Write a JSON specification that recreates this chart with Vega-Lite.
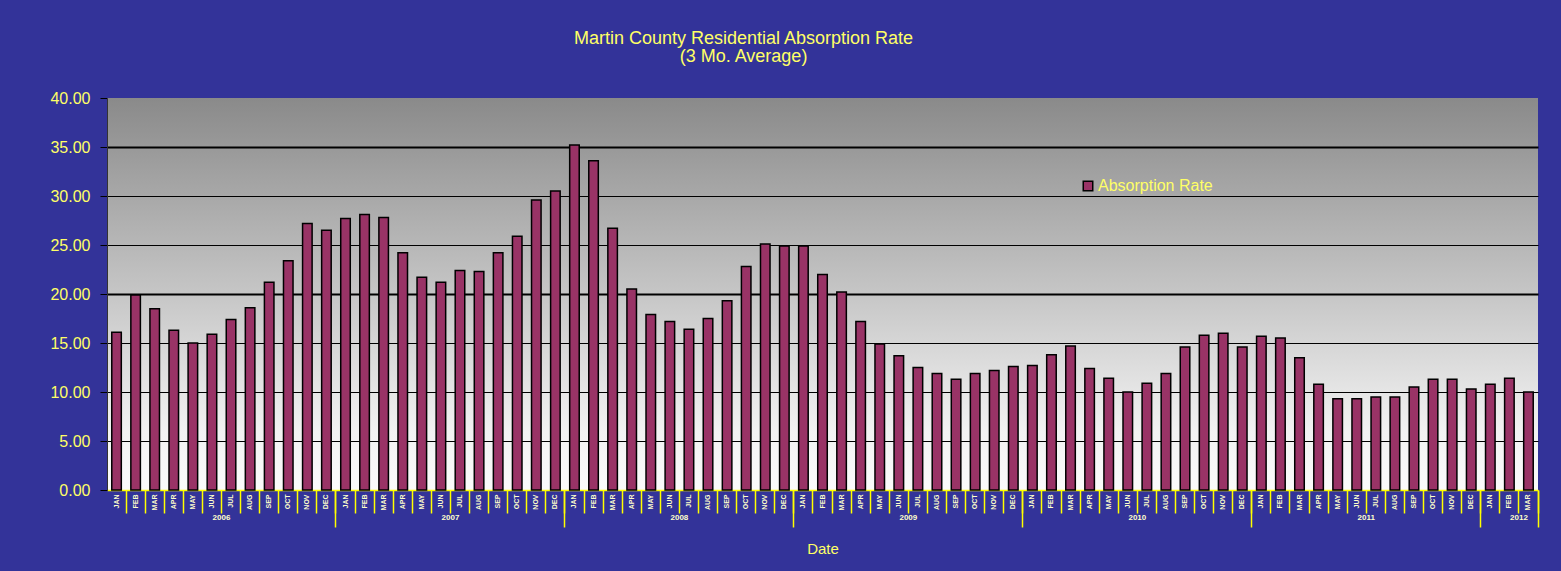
{
  "$schema": "https://vega.github.io/schema/vega-lite/v6.json",
  "width": 1431,
  "height": 392,
  "autosize": {"type": "none"},
  "padding": {"left": 107, "top": 98, "right": 23, "bottom": 81},
  "background": "#333399",
  "view": {
    "stroke": null,
    "fill": {
      "gradient": "linear",
      "x1": 0, "y1": 0, "x2": 0, "y2": 1,
      "stops": [
        {"offset": 0, "color": "#8a8a8a"},
        {"offset": 0.5, "color": "#c6c6c6"},
        {"offset": 0.85, "color": "#f2f2f2"},
        {"offset": 1, "color": "#fbfbfb"}
      ]
    }
  },
  "title": {
    "text": ["Martin County Residential Absorption Rate", "(3 Mo. Average)"],
    "color": "#ffff66",
    "font": "Liberation Sans",
    "fontSize": 18,
    "fontWeight": "normal",
    "lineHeight": 18,
    "anchor": "middle",
    "frame": "group",
    "dx": -79,
    "offset": 24
  },
  "config": {"view": {"stroke": null}},
  "data": {
    "values": [
      {"date": "2006-01", "rate": 16.1}, {"date": "2006-02", "rate": 19.9}, {"date": "2006-03", "rate": 18.5},
      {"date": "2006-04", "rate": 16.3}, {"date": "2006-05", "rate": 15.0}, {"date": "2006-06", "rate": 15.9},
      {"date": "2006-07", "rate": 17.4}, {"date": "2006-08", "rate": 18.6}, {"date": "2006-09", "rate": 21.2},
      {"date": "2006-10", "rate": 23.4}, {"date": "2006-11", "rate": 27.2}, {"date": "2006-12", "rate": 26.5},
      {"date": "2007-01", "rate": 27.7}, {"date": "2007-02", "rate": 28.1}, {"date": "2007-03", "rate": 27.8},
      {"date": "2007-04", "rate": 24.2}, {"date": "2007-05", "rate": 21.7}, {"date": "2007-06", "rate": 21.2},
      {"date": "2007-07", "rate": 22.4}, {"date": "2007-08", "rate": 22.3}, {"date": "2007-09", "rate": 24.2},
      {"date": "2007-10", "rate": 25.9}, {"date": "2007-11", "rate": 29.6}, {"date": "2007-12", "rate": 30.5},
      {"date": "2008-01", "rate": 35.2}, {"date": "2008-02", "rate": 33.6}, {"date": "2008-03", "rate": 26.7},
      {"date": "2008-04", "rate": 20.5}, {"date": "2008-05", "rate": 17.9}, {"date": "2008-06", "rate": 17.2},
      {"date": "2008-07", "rate": 16.4}, {"date": "2008-08", "rate": 17.5}, {"date": "2008-09", "rate": 19.3},
      {"date": "2008-10", "rate": 22.8}, {"date": "2008-11", "rate": 25.1}, {"date": "2008-12", "rate": 24.9},
      {"date": "2009-01", "rate": 24.9}, {"date": "2009-02", "rate": 22.0}, {"date": "2009-03", "rate": 20.2},
      {"date": "2009-04", "rate": 17.2}, {"date": "2009-05", "rate": 14.9}, {"date": "2009-06", "rate": 13.7},
      {"date": "2009-07", "rate": 12.5}, {"date": "2009-08", "rate": 11.9}, {"date": "2009-09", "rate": 11.3},
      {"date": "2009-10", "rate": 11.9}, {"date": "2009-11", "rate": 12.2}, {"date": "2009-12", "rate": 12.6},
      {"date": "2010-01", "rate": 12.7}, {"date": "2010-02", "rate": 13.8}, {"date": "2010-03", "rate": 14.7},
      {"date": "2010-04", "rate": 12.4}, {"date": "2010-05", "rate": 11.4}, {"date": "2010-06", "rate": 10.0},
      {"date": "2010-07", "rate": 10.9}, {"date": "2010-08", "rate": 11.9}, {"date": "2010-09", "rate": 14.6},
      {"date": "2010-10", "rate": 15.8}, {"date": "2010-11", "rate": 16.0}, {"date": "2010-12", "rate": 14.6},
      {"date": "2011-01", "rate": 15.7}, {"date": "2011-02", "rate": 15.5}, {"date": "2011-03", "rate": 13.5},
      {"date": "2011-04", "rate": 10.8}, {"date": "2011-05", "rate": 9.3}, {"date": "2011-06", "rate": 9.3},
      {"date": "2011-07", "rate": 9.5}, {"date": "2011-08", "rate": 9.5}, {"date": "2011-09", "rate": 10.5},
      {"date": "2011-10", "rate": 11.3}, {"date": "2011-11", "rate": 11.3}, {"date": "2011-12", "rate": 10.3},
      {"date": "2012-01", "rate": 10.8}, {"date": "2012-02", "rate": 11.4}, {"date": "2012-03", "rate": 10.0}
    ]
  },
  "resolve": {"axis": {"x": "independent"}},
  "layer": [
    {
      "mark": {"type": "bar", "stroke": "black", "strokeWidth": 1.5},
      "encoding": {
        "x": {
          "field": "date",
          "type": "ordinal",
          "sort": null,
          "scale": {"paddingInner": 0.5, "paddingOuter": 0.25},
          "axis": {
            "orient": "bottom",
            "title": "Date",
            "titleColor": "#ffff66",
            "titleFont": "Liberation Sans",
            "titleFontSize": 15,
            "titleFontWeight": "normal",
            "titlePadding": 28,
            "labelExpr": "['JAN','FEB','MAR','APR','MAY','JUN','JUL','AUG','SEP','OCT','NOV','DEC'][toNumber(slice(datum.value,5))-1]",
            "labelAngle": 270,
            "labelFont": "Liberation Sans",
            "labelFontSize": 7,
            "labelFontWeight": "bold",
            "labelColor": "#ffffcc",
            "labelPadding": -19,
            "labelOverlap": false,
            "bandPosition": 1.5,
            "tickColor": "#ffff00",
            "tickSize": 23,
            "tickWidth": 1.5,
            "domainColor": "#ffff00",
            "domainWidth": 1.5,
            "grid": false
          }
        },
        "y": {
          "field": "rate",
          "type": "quantitative",
          "scale": {"domain": [0, 40], "nice": false},
          "axis": {
            "title": null,
            "values": [0, 5, 10, 15, 20, 25, 30, 35, 40],
            "format": ".2f",
            "labelColor": "#ffff66",
            "labelFont": "Liberation Sans",
            "labelFontSize": 16,
            "labelPadding": 10,
            "tickColor": "black",
            "tickSize": 7,
            "domainColor": "#333333",
            "gridColor": "black",
            "gridWidth": {"expr": "datum.value == 20 || datum.value == 35 ? 2 : (datum.value == 0 || datum.value == 40 ? 0 : 1)"}
          }
        },
        "color": {
          "datum": "Absorption Rate",
          "scale": {"range": ["#993366"]},
          "legend": {
            "title": null,
            "orient": "none",
            "legendX": 973,
            "legendY": 80,
            "symbolType": "square",
            "symbolSize": 90,
            "symbolStrokeColor": "black",
            "symbolStrokeWidth": 1.5,
            "labelColor": "#ffff66",
            "labelFont": "Liberation Sans",
            "labelFontSize": 16,
            "labelOffset": 2
          }
        }
      }
    },
    {
      "mark": {"type": "bar", "opacity": 0},
      "encoding": {
        "x": {
          "field": "date",
          "type": "ordinal",
          "sort": null,
          "axis": {
            "orient": "bottom",
            "title": null,
            "domain": false,
            "grid": false,
            "bandPosition": 1.5,
            "tickSize": 37,
            "tickColor": "#ffff00",
            "tickWidth": 1.5,
            "tickOpacity": {"expr": "slice(datum.value,5) == '12' || datum.value == '2012-03' ? 1 : 0"},
            "labelExpr": "datum.value == '2012-03' ? '2012' : (slice(datum.value,5) == '07' ? slice(datum.value,0,4) : '')",
            "labelOffset": -9.54,
            "labelAngle": 0,
            "labelFont": "Liberation Sans",
            "labelFontSize": 8,
            "labelFontWeight": "bold",
            "labelColor": "#ffffcc",
            "labelPadding": -14,
            "labelOverlap": false
          }
        },
        "y": {"field": "rate", "type": "quantitative"}
      }
    }
  ]
}
